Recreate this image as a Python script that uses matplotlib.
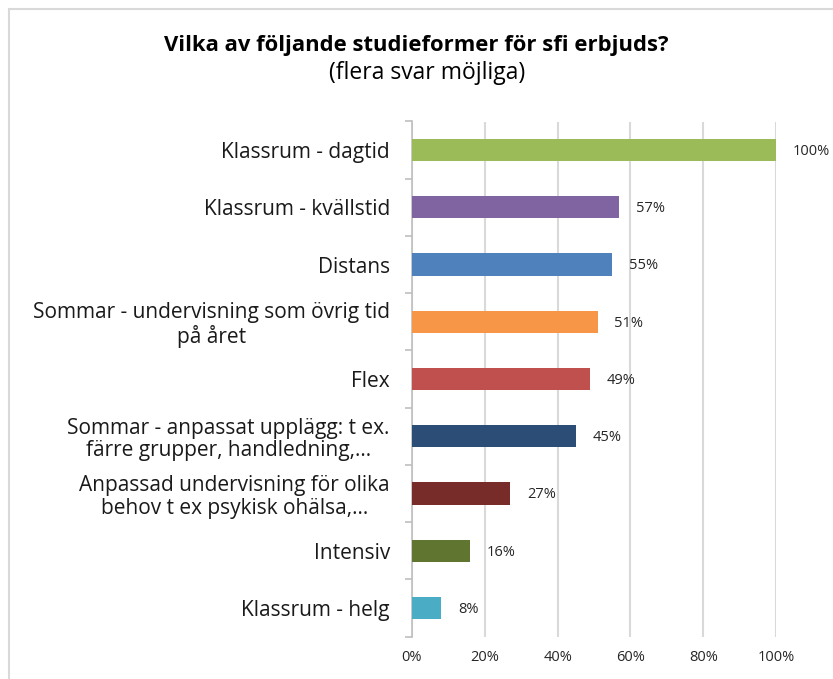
import matplotlib
matplotlib.use("Agg")
import matplotlib.pyplot as plt
from matplotlib.patches import Rectangle

plt.rcParams['font.family'] = ['Open Sans', 'DejaVu Sans']

categories = [
    "Klassrum - dagtid",
    "Klassrum - kvällstid",
    "Distans",
    "Sommar - undervisning som övrig tid\npå året",
    "Flex",
    "Sommar - anpassat upplägg: t ex.\nfärre grupper, handledning,…",
    "Anpassad undervisning för olika\nbehov t ex psykisk ohälsa,…",
    "Intensiv",
    "Klassrum - helg",
]
values = [100, 57, 55, 51, 49, 45, 27, 16, 8]
value_labels = ["100%", "57%", "55%", "51%", "49%", "45%", "27%", "16%", "8%"]
colors = ["#9BBB59", "#8064A2", "#4F81BD", "#F79646", "#C0504D",
          "#2C4D75", "#772C2A", "#5F7530", "#4BACC6"]
xticks = [0, 20, 40, 60, 80, 100]
xtick_labels = ["0%", "20%", "40%", "60%", "80%", "100%"]
title = "Vilka av följande studieformer för sfi erbjuds?"
subtitle = "(flera svar möjliga)"

W, H = 833, 679
fig = plt.figure(figsize=(W / 100, H / 100), dpi=100)
fig.patch.set_facecolor("white")

# outer border
fig.patches.append(Rectangle((8.5 / W, -0.1), 1.2, (H - 9.5) / H + 0.1,
                             transform=fig.transFigure, fill=False,
                             edgecolor="#D9D9D9", linewidth=1.5))

ax_left, ax_right = 412, 776
ax_top, ax_bottom = 121.5, 636.5
ax = fig.add_axes([ax_left / W, 1 - ax_bottom / H,
                   (ax_right - ax_left) / W, (ax_bottom - ax_top) / H])

n = len(categories)
ypos = list(range(n))
ax.barh(ypos, values, height=0.39, color=colors, zorder=3)
ax.set_ylim(n - 0.5, -0.5)
ax.set_xlim(0, 100)

for y, v, lab in zip(ypos, values, value_labels):
    ax.annotate(lab, (v, y), xytext=(12, -1), textcoords="offset points",
                ha="left", va="center", fontsize=10.5, color="#262626")

ax.set_xticks(xticks)
ax.set_xticklabels(xtick_labels, fontsize=10.5, color="#262626")
ax.set_yticks(ypos)
ax.set_yticklabels(categories, fontsize=15, color="#1a1a1a",
                   multialignment="center", linespacing=1.1)
ax.tick_params(axis="y", length=0, pad=16)
ax.tick_params(axis="x", length=0, pad=10)

# minor ticks at category boundaries on the y axis
ax.set_yticks([i - 0.5 for i in range(n + 1)], minor=True)
ax.tick_params(axis="y", which="minor", length=5, color="#BFBFBF", width=1.2)

ax.grid(axis="x", color="#D9D9D9", linewidth=1.5, zorder=0)
for s in ["top", "right", "bottom"]:
    ax.spines[s].set_visible(False)
ax.spines["left"].set_color("#BFBFBF")
ax.spines["left"].set_linewidth(1.2)
ax.set_axisbelow(True)

fig.text(416 / W, 1 - 46 / H, title, ha="center", va="center",
         fontsize=15.8, fontweight="bold", color="#000000")
fig.text(427 / W, 1 - 73 / H, subtitle, ha="center", va="center",
         fontsize=16.5, color="#000000")

fig.savefig("out.png", dpi=100, facecolor="white")
